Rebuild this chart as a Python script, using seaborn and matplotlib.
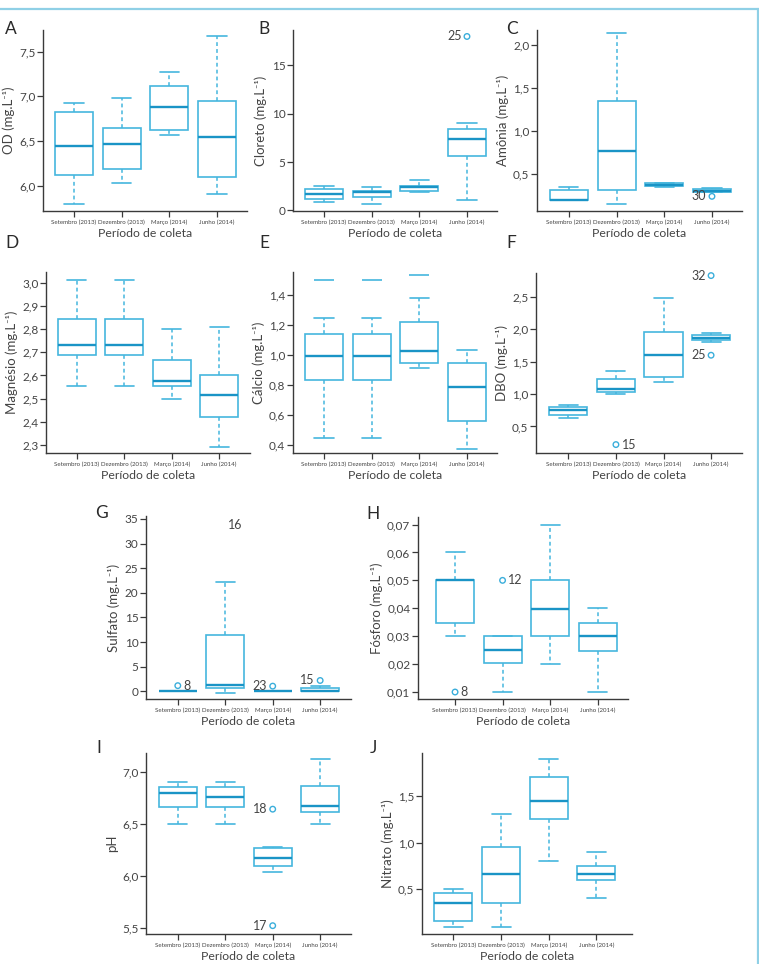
import numpy as np
import pandas as pd
import matplotlib
matplotlib.use("Agg")
import matplotlib.pyplot as plt
import seaborn as sns
from matplotlib.ticker import FixedLocator, FuncFormatter
from matplotlib.lines import Line2D

# ---------------- data ----------------
periodos = ["Setembro (2013)", "Dezembro (2013)", "Março (2014)", "Junho (2014)"]

# five-number summaries per period: [min, Q1, median, Q3, max]
od = [[5.80, 6.12, 6.44, 6.83, 6.93], [6.03, 6.19, 6.47, 6.65, 6.98],
      [6.57, 6.62, 6.88, 7.12, 7.27], [5.91, 6.10, 6.55, 6.95, 7.67]]
cloreto = [[0.83, 1.20, 1.69, 2.20, 2.52], [0.69, 1.43, 1.90, 1.97, 2.45],
           [1.93, 1.95, 2.40, 2.52, 3.10], [1.04, 5.60, 7.43, 8.47, 9.00]]
amonia = [[0.20, 0.20, 0.20, 0.31, 0.35], [0.155, 0.31, 0.77, 1.345, 2.13],
          [0.35, 0.36, 0.375, 0.39, 0.40], [0.29, 0.295, 0.305, 0.33, 0.34]]
magnesio = [[2.555, 2.69, 2.73, 2.845, 3.01], [2.555, 2.69, 2.73, 2.845, 3.01],
            [2.50, 2.555, 2.575, 2.665, 2.80], [2.29, 2.42, 2.515, 2.60, 2.81]]
calcio = [[0.45, 0.835, 0.995, 1.145, 1.25], [0.45, 0.835, 0.995, 1.145, 1.25],
          [0.915, 0.95, 1.03, 1.225, 1.385], [0.375, 0.56, 0.785, 0.95, 1.035]]
dbo = [[0.634, 0.68, 0.747, 0.80, 0.835], [1.005, 1.026, 1.08, 1.227, 1.36],
       [1.18, 1.27, 1.61, 1.96, 2.49], [1.80, 1.83, 1.866, 1.91, 1.94]]
sulfato = [[0.0, 0.0, 0.05, 0.10, 0.10], [-0.3, 0.68, 1.2, 11.5, 22.2],
           [0.0, 0.0, 0.05, 0.10, 0.10], [0.0, 0.0, 0.15, 0.60, 1.10]]
fosforo = [[0.030, 0.0347, 0.050, 0.0502, 0.060], [0.010, 0.0203, 0.0252, 0.030, 0.030],
           [0.020, 0.030, 0.0398, 0.050, 0.070], [0.010, 0.0247, 0.030, 0.0347, 0.040]]
ph = [[6.50, 6.66, 6.80, 6.855, 6.90], [6.50, 6.66, 6.76, 6.855, 6.90],
      [6.04, 6.09, 6.17, 6.27, 6.28], [6.50, 6.61, 6.67, 6.86, 7.125]]
nitrato = [[0.09, 0.15, 0.345, 0.45, 0.50], [0.09, 0.345, 0.655, 0.95, 1.31],
           [0.80, 1.26, 1.455, 1.71, 1.91], [0.40, 0.60, 0.655, 0.745, 0.90]]

# outliers: (period index, value, label, label side)
cloreto_out = [(3, 18.0, "25", "left")]
amonia_out = [(3, 0.24, "30", "left")]
dbo_out = [(1, 0.22, "15", "right"), (3, 2.83, "32", "left"), (3, 1.60, "25", "left")]
sulfato_out = [(0, 1.15, "8", "right"), (2, 1.05, "23", "left"), (3, 2.2, "15", "left")]
sulfato_off = [(1.22, 33.8, "16")]   # label of an off-scale point
fosforo_out = [(0, 0.010, "8", "right"), (1, 0.050, "12", "right")]
ph_out = [(2, 6.64, "18", "left"), (2, 5.52, "17", "left")]
calcio_ext = [(0, 1.50), (1, 1.50), (2, 1.535)]  # isolated extreme marks

sup = "(mg.L\u207b\u00b9)"
ylabels = {"A": "OD " + sup, "B": "Cloreto " + sup, "C": "Amônia " + sup,
           "D": "Magnésio " + sup, "E": "Cálcio " + sup, "F": "DBO " + sup,
           "G": "Sulfato " + sup, "H": "Fósforo " + sup, "I": "pH",
           "J": "Nitrato " + sup}

# ---------------- style ----------------
sns.set_style("ticks")
plt.rcParams["font.family"] = ["Lato", "DejaVu Sans"]
EDGE = "#45b6de"
MED = "#1a94c6"
OUTC = "#3aaedb"
INK = "#3a3a3a"
TXT = "#444444"
FRAME = "#8fd0e6"

W, H = 759, 964
fig = plt.figure(figsize=(W / 100, H / 100), dpi=100)


def rect(l, t, r, b):
    return [l / W, 1 - b / H, (r - l) / W, (b - t) / H]


def long_df(stats):
    rows = [(cat, v) for cat, s in zip(periodos, stats) for v in s]
    return pd.DataFrame(rows, columns=["periodo", "valor"])


panels = [
    ("A", od, rect(43, 30, 247, 211), (5.72, 7.74), [6.0, 6.5, 7.0, 7.5], 1, (-0.65, 3.63), (5, 21)),
    ("B", cloreto, rect(293, 30, 497, 211), (-0.07, 18.67), [0, 5, 10, 15], 0, (-0.65, 3.63), (258, 21)),
    ("C", amonia, rect(537, 30, 742, 211), (0.07, 2.17), [0.5, 1.0, 1.5, 2.0], 1, (-0.67, 3.63), (506, 21)),
    ("D", magnesio, rect(46, 272, 250, 453), (2.266, 3.046), [2.3, 2.4, 2.5, 2.6, 2.7, 2.8, 2.9, 3.0], 1, (-0.65, 3.65), (5, 235)),
    ("E", calcio, rect(293, 272, 497, 453), (0.347, 1.556), [0.4, 0.6, 0.8, 1.0, 1.2, 1.4], 1, (-0.65, 3.63), (259, 235)),
    ("F", dbo, rect(536, 273, 742, 453), (0.09, 2.87), [0.5, 1.0, 1.5, 2.0, 2.5], 1, (-0.68, 3.65), (506, 235)),
    ("G", sulfato, rect(146, 516, 351, 699), (-1.56, 35.6), [0, 5, 10, 15, 20, 25, 30, 35], 0, (-0.67, 3.65), (95, 505)),
    ("H", fosforo, rect(418, 517, 628, 699), (0.0075, 0.0727), [0.01, 0.02, 0.03, 0.04, 0.05, 0.06, 0.07], 2, (-0.78, 3.64), (366, 506)),
    ("I", ph, rect(146, 753, 351, 934), (5.44, 7.18), [5.5, 6.0, 6.5, 7.0], 1, (-0.67, 3.65), (96, 740)),
    ("J", nitrato, rect(422, 753, 632, 934), (0.01, 1.97), [0.5, 1.0, 1.5], 1, (-0.66, 3.75), (370, 740)),
]

outliers = {"B": cloreto_out, "C": amonia_out, "F": dbo_out, "G": sulfato_out,
            "H": fosforo_out, "I": ph_out}

for letter, stats, r, ylim, yt, dec, xlim, lpos in panels:
    ax = fig.add_axes(r)
    df = long_df(stats)
    sns.boxplot(data=df, x="periodo", y="valor", order=periodos, ax=ax,
                whis=(0, 100), width=0.8, showfliers=False, linewidth=1.2,
                boxprops=dict(facecolor="white", edgecolor=EDGE, linewidth=1.2),
                medianprops=dict(color=MED, linewidth=1.7),
                whiskerprops=dict(color=EDGE, linewidth=1.1, linestyle=(0, (2.5, 2.0))),
                capprops=dict(color=EDGE, linewidth=1.2))
    for (i, v, lab, side) in outliers.get(letter, []):
        ax.scatter([i], [v], s=16, facecolors="none", edgecolors=OUTC,
                   linewidths=1.0, zorder=5, clip_on=False)
        dx = -4 if side == "left" else 4
        ax.annotate(lab, (i, v), xytext=(dx, 0), textcoords="offset points",
                    ha="right" if side == "left" else "left", va="center",
                    fontsize=9, color=TXT)
    if letter == "E":
        for (i, v) in calcio_ext:
            ax.scatter([i], [v], marker="_", s=190, color=EDGE, linewidths=1.2, zorder=4)
    if letter == "G":
        for (xx, yy, lab) in sulfato_off:
            ax.text(xx, yy, lab, ha="center", va="center", fontsize=9, color=TXT)

    ax.set_xlim(*xlim)
    ax.set_ylim(*ylim)
    ax.yaxis.set_major_locator(FixedLocator(yt))
    ax.yaxis.set_major_formatter(FuncFormatter(
        lambda v, p, d=dec: (f"{v:.{d}f}").replace(".", ",")))
    ax.set_xticks(range(len(periodos)))
    ax.set_xticklabels(periodos)
    for s in ["top", "right"]:
        ax.spines[s].set_visible(False)
    for s in ["left", "bottom"]:
        ax.spines[s].set_color(INK)
        ax.spines[s].set_linewidth(1.0)
    ax.tick_params(axis="both", direction="out", length=4, width=0.9, color=INK)
    ax.tick_params(axis="y", labelsize=8.5, labelcolor=TXT, pad=1.5)
    ax.tick_params(axis="x", labelsize=4.4, labelcolor=TXT, pad=2)
    ax.set_xlabel("Período de coleta", fontsize=8.8, color=TXT, labelpad=2)
    ax.set_ylabel(ylabels[letter], fontsize=9.5, color=TXT, labelpad=3)
    fig.text(lpos[0] / W, 1 - lpos[1] / H, letter, fontsize=12.5,
             fontweight="normal", color="#2a2a2a", ha="left", va="top")

fig.add_artist(Line2D([0, 1], [1 - 8.5 / H] * 2, color=FRAME, lw=1.6))
fig.add_artist(Line2D([757.5 / W] * 2, [0, 1 - 8.5 / H], color=FRAME, lw=1.6))

fig.savefig("out.png", dpi=100, facecolor="white")
